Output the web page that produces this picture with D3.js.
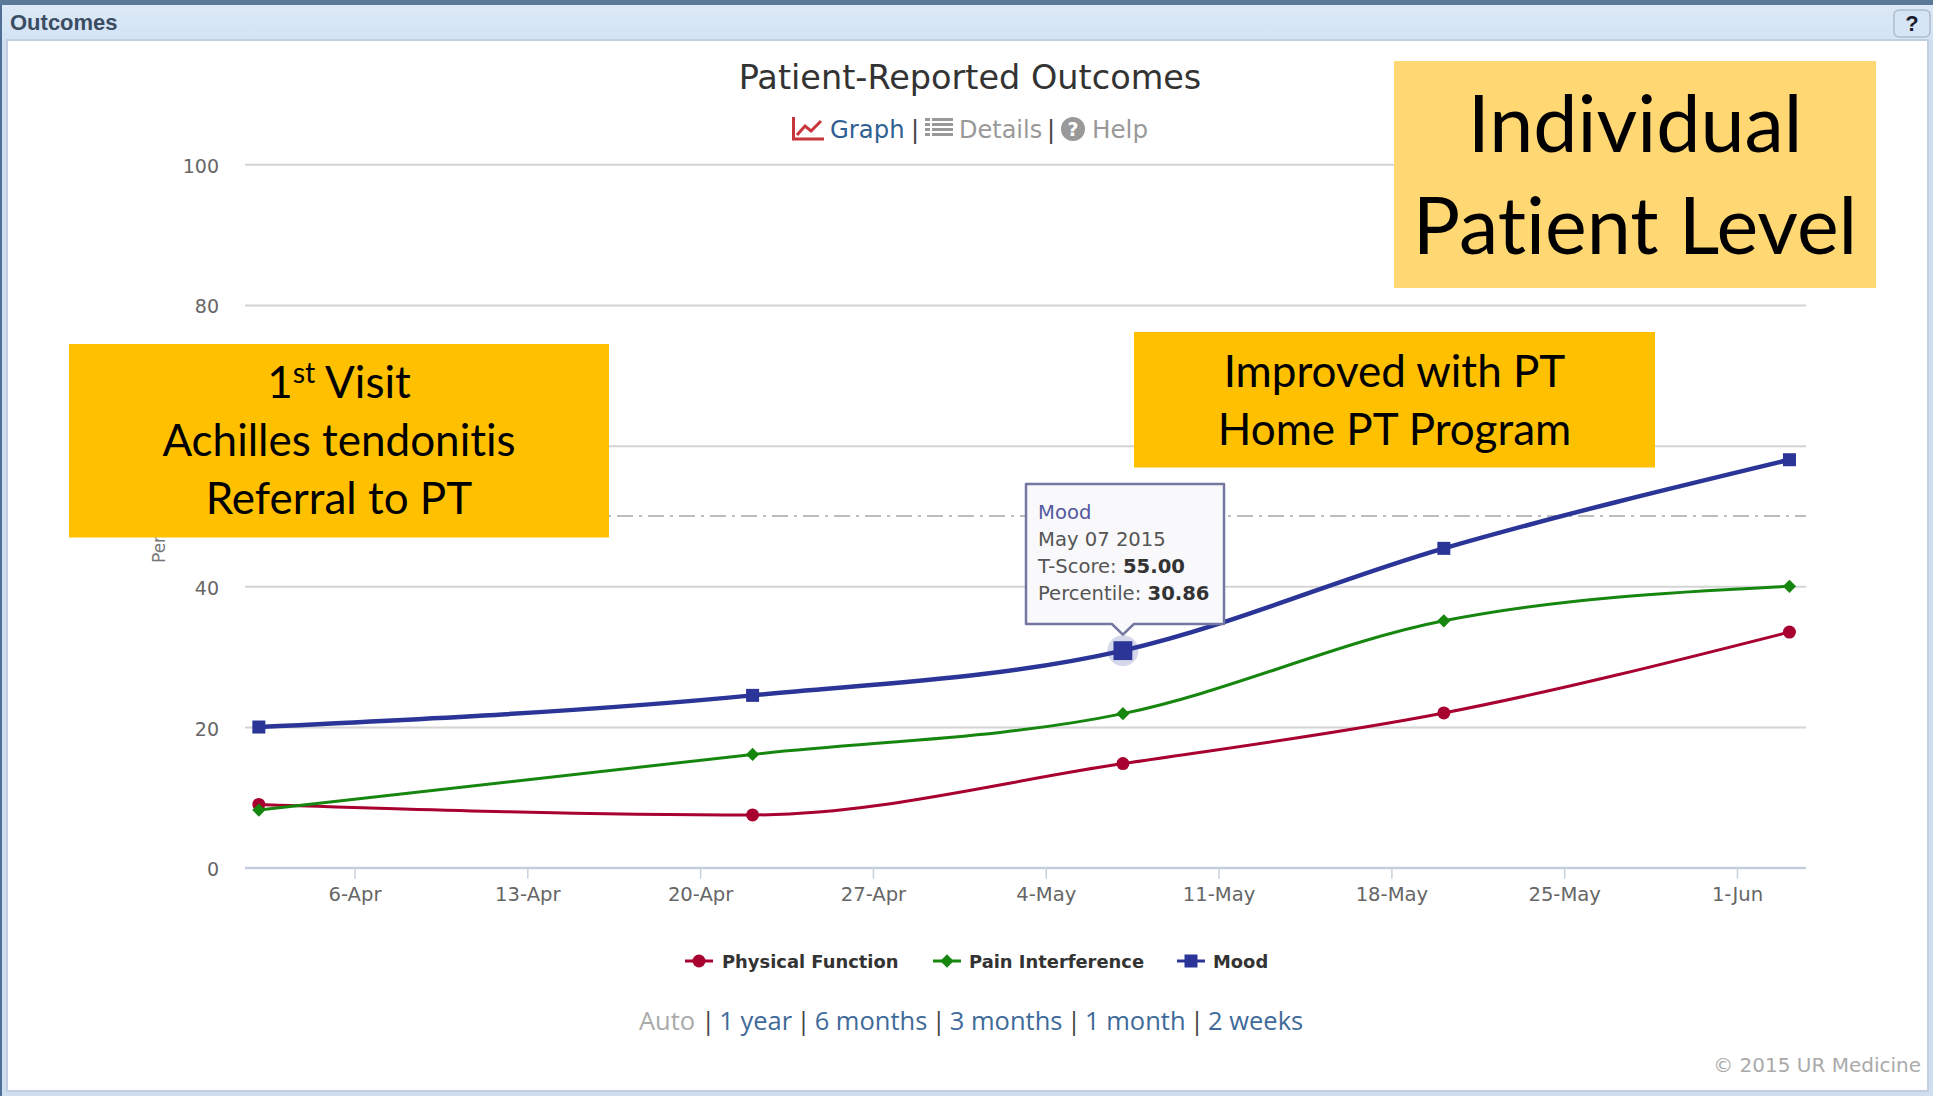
<!DOCTYPE html>
<html><head><meta charset="utf-8">
<script src="https://cdn.jsdelivr.net/npm/d3@7"></script>
<style>
html,body{margin:0;padding:0;background:#fff;overflow:hidden}
svg{display:block}
text{font-family:"DejaVu Sans",sans-serif}
.box{font-family:Lato,sans-serif;fill:#000;font-variant-ligatures:none}
</style></head><body>
<svg id="c" width="1933" height="1096"></svg>
<script>
const dates=["2015-04-02T03:00","2015-04-22T03:00","2015-05-07T03:00","2015-05-20T03:00","2015-06-03T03:00"];
const physicalFunction=[9.0,7.5,14.8,22.0,33.5];
const painInterference=[8.2,16.1,21.9,35.1,40.0];
const mood=[20.0,24.5,30.86,45.4,58.0];
const seriesNames=["Physical Function","Pain Interference","Mood"];
const xTickDates=["2015-04-06T00:00","2015-04-13T00:00","2015-04-20T00:00","2015-04-27T00:00","2015-05-04T00:00","2015-05-11T00:00","2015-05-18T00:00","2015-05-25T00:00","2015-06-01T00:00"];
const yTicks=[0,20,40,60,80,100];
const referenceValue=50;
const rangeLinks=["1 year","6 months","3 months","1 month","2 weeks"];

const parse=d3.utcParse("%Y-%m-%dT%H:%M");
const svg=d3.select("#c");
const x2=d3.scaleUtc().domain([parse(xTickDates[0]),parse(xTickDates[8])]).range([354.5,1737]);
const y=d3.scaleLinear().domain([0,100]).range([867.7,164.3]);
const L=245,R=1806;

// window chrome
svg.append("rect").attr("width",1933).attr("height",1096).attr("fill","#cfdff0");
svg.append("rect").attr("width",1933).attr("height",5).attr("fill","#5c7898");
const grad=svg.append("defs").append("linearGradient").attr("id","hd").attr("x2",0).attr("y2",1);
grad.append("stop").attr("offset",0).attr("stop-color","#dce9f6");
grad.append("stop").attr("offset",1).attr("stop-color","#d3e3f4");
svg.append("rect").attr("y",5).attr("width",1933).attr("height",35).attr("fill","url(#hd)");
svg.append("rect").attr("x",0).attr("y",5).attr("width",2).attr("height",1091).attr("fill","#4f6f94");
svg.append("rect").attr("x",7).attr("y",40).attr("width",1921).attr("height",1051).attr("fill","#fff").attr("stroke","#c3cfe0").attr("stroke-width",2);
svg.append("text").attr("x",10).attr("y",30).attr("font-size",22).attr("font-weight","bold").attr("fill","#3a4d63").style("font-family","Liberation Sans").text("Outcomes");
svg.append("rect").attr("x",1894).attr("y",10).attr("width",36).attr("height",27).attr("rx",5).attr("fill","#d6e5f5").attr("stroke","#aebccd").attr("stroke-width",1.5);
svg.append("text").attr("x",1912).attr("y",31).attr("text-anchor","middle").attr("font-size",22).attr("font-weight","bold").attr("fill","#1a1a2a").style("font-family","Liberation Sans").text("?");

// title and view switcher
svg.append("text").attr("x",970).attr("y",89).attr("text-anchor","middle").attr("font-size",33.5).attr("fill","#333").text("Patient-Reported Outcomes");
const icon=svg.append("g").attr("transform","translate(792,116)").attr("fill","none").attr("stroke","#c8353a");
icon.append("path").attr("d","M1.5 1V23H32").attr("stroke-width",3);
icon.append("path").attr("d","M5 19L13 10L19 15L29 5").attr("stroke-width",3);
svg.append("text").attr("x",830).attr("y",138).attr("font-size",24.3).attr("fill","#2f6091").text("Graph");
svg.append("text").attr("x",911).attr("y",138).attr("font-size",24.3).attr("fill","#444").text("|");
const lst=svg.append("g").attr("transform","translate(925,118)").attr("fill","#999");
[0,5,10,15].forEach(d=>{lst.append("rect").attr("x",0).attr("y",d).attr("width",5).attr("height",3);lst.append("rect").attr("x",7).attr("y",d).attr("width",21).attr("height",3);});
svg.append("text").attr("x",959).attr("y",138).attr("font-size",24).attr("fill","#999").text("Details");
svg.append("text").attr("x",1047).attr("y",138).attr("font-size",24.3).attr("fill","#444").text("|");
svg.append("circle").attr("cx",1073).attr("cy",129).attr("r",12).attr("fill","#999");
svg.append("text").attr("x",1073).attr("y",136).attr("text-anchor","middle").attr("font-size",19).attr("font-weight","bold").attr("fill","#fff").text("?");
svg.append("text").attr("x",1092).attr("y",138).attr("font-size",24.6).attr("fill","#999").text("Help");

// axes
const yAxis=svg.append("g").attr("transform",`translate(${L},0)`)
  .call(d3.axisLeft(y).tickValues(yTicks).tickSize(-(R-L)).tickPadding(26).tickFormat(d3.format("d")));
yAxis.select(".domain").remove();
yAxis.selectAll("line").attr("stroke","#d4d4d4").attr("stroke-width",2);
yAxis.selectAll("text").attr("font-size",19).attr("fill","#666").attr("dy","0.42em").style("font-family","DejaVu Sans");
yAxis.selectAll("text").filter(d=>d===60).remove(); // hidden behind the annotation box in the reference
const xAxis=svg.append("g").attr("transform",`translate(0,${y(0)})`)
  .call(d3.axisBottom(x2).tickValues(xTickDates.map(parse)).tickSize(11).tickPadding(8).tickFormat(d3.utcFormat("%-d-%b")));
xAxis.select(".domain").attr("d",`M${L},0H${R}`).attr("stroke","#c0cddc").attr("stroke-width",2);
xAxis.selectAll("line").attr("stroke","#c8d2de").attr("stroke-width",1.5);
xAxis.selectAll("text").attr("font-size",19.6).attr("fill","#666").style("font-family","DejaVu Sans");
svg.append("text").attr("transform",`translate(165,563) rotate(-90)`).attr("font-size",17).attr("fill","#777").text("Percentile");

// reference line
svg.append("line").attr("x1",L).attr("x2",R).attr("y1",y(referenceValue)).attr("y2",y(referenceValue))
  .attr("stroke","#bdbdbd").attr("stroke-width",2).attr("stroke-dasharray","16 6 3 6");

// series
const ds=dates.map(parse);
const colors=["#a8002f","#16860f","#2b3597"];
const all=[physicalFunction,painInterference,mood];
const widths=[3,3,4.5];
const line=d3.line().x(d=>x2(d[0])).y(d=>y(d[1])).curve(d3.curveMonotoneX);
all.forEach((v,i)=>{
  svg.append("path").attr("d",line(ds.map((d,j)=>[d,v[j]]))).attr("fill","none").attr("stroke",colors[i]).attr("stroke-width",widths[i]);
});
function marker(g,i,px,py,s){
  s=s||1;
  if(i===0) g.append("circle").attr("cx",px).attr("cy",py).attr("r",6.5*s).attr("fill",colors[0]);
  else if(i===1) g.append("path").attr("d",d3.symbol(d3.symbolSquare,88*s*s)()).attr("transform",`translate(${px},${py}) rotate(45)`).attr("fill",colors[1]);
  else g.append("rect").attr("x",px-6.5*s).attr("y",py-6.5*s).attr("width",13*s).attr("height",13*s).attr("fill",colors[2]);
}
const pts=svg.append("g");
all.forEach((v,i)=>ds.forEach((d,j)=>{
  const hot=i===2&&j===2;
  if(hot) pts.append("circle").attr("cx",x2(d)).attr("cy",y(v[j])).attr("r",15.5).attr("fill","#2b3597").attr("opacity",.2);
  marker(pts,i,x2(d),y(v[j]),hot?1.45:1);
}));

// tooltip
const hx=x2(ds[2]),hy=y(mood[2]);
const tt=svg.append("g");
tt.append("path").attr("d",`M1026 484H1224V624H${hx+11}L${hx} ${hy-16}L${hx-11} 624H1026Z`)
  .attr("fill","#f9f9fb").attr("stroke","#74779f").attr("stroke-width",2.5).attr("stroke-linejoin","round");
const tl=(yy,parts)=>{const t=tt.append("text").attr("x",1038).attr("y",yy).attr("font-size",19.6).attr("fill","#555");
  parts.forEach(p=>t.append("tspan").attr("font-weight",p[1]?"bold":"normal").attr("fill",p[2]||(p[1]?"#333":"#555")).text(p[0]));};
tl(519,[[seriesNames[2],0,"#5458a0"]]);
tl(546,[["May 07 2015",0]]);
tl(573,[["T-Score: ",0],["55.00",1]]);
tl(600,[["Percentile: ",0],[d3.format(".2f")(mood[2]),1]]);

// legend
const legendX=[699,947,1191], legendT=[722,969,1213];
seriesNames.forEach((n,i)=>{
  svg.append("line").attr("x1",legendX[i]-14).attr("x2",legendX[i]+14).attr("y1",961).attr("y2",961).attr("stroke",colors[i]).attr("stroke-width",3);
  marker(svg,i,legendX[i],961,1);
  svg.append("text").attr("x",legendT[i]).attr("y",968).attr("font-size",17.9).attr("font-weight","bold").attr("fill","#333").style("font-family","DejaVu Sans").text(n);
});

// range selector: each piece is its own text, laid out by measured width
let cursor=639;
const piece=(s,fill,gap)=>{
  const t=svg.append("text").attr("x",cursor).attr("y",1030).attr("font-size",25.5).attr("fill",fill).style("font-family","Open Sans").text(s);
  cursor+=t.node().getComputedTextLength()+gap;
};
piece("Auto","#aaa",6);
rangeLinks.forEach(r=>{piece("|","#444",4);piece(r,"#3f6a9a",4.5);});
svg.append("text").attr("x",1921).attr("y",1072).attr("text-anchor","end").attr("font-size",20).attr("fill","#aaa").text("© 2015 UR Medicine");

// annotation boxes
function box(x0,y0,x1,y1,fill,lines,size,lh,first){
  svg.append("rect").attr("x",x0).attr("y",y0).attr("width",x1-x0).attr("height",y1-y0).attr("fill",fill);
  lines.forEach((l,i)=>{
    const t=svg.append("text").attr("class","box").attr("x",(x0+x1)/2).attr("y",first+i*lh).attr("text-anchor","middle").attr("font-size",size).style("font-family","Lato");
    if(Array.isArray(l)){
      t.append("tspan").text(l[0]);
      t.append("tspan").attr("dy",-size*.35).attr("font-size",size*.65).text(l[1]);
      t.append("tspan").attr("dy",size*.35).text(l[2]);
    } else t.text(l);
  });
}
box(69,344,609,537.5,"#FFC000",[["1","st"," Visit"],"Achilles tendonitis","Referral to PT"],44,58,398);
box(1134,332,1655,467.5,"#FFC000",["Improved with PT","Home PT Program"],44,58,387);
box(1394,61,1876,288,"#FFD873",["Individual","Patient Level"],79,102,152);
</script></body></html>
